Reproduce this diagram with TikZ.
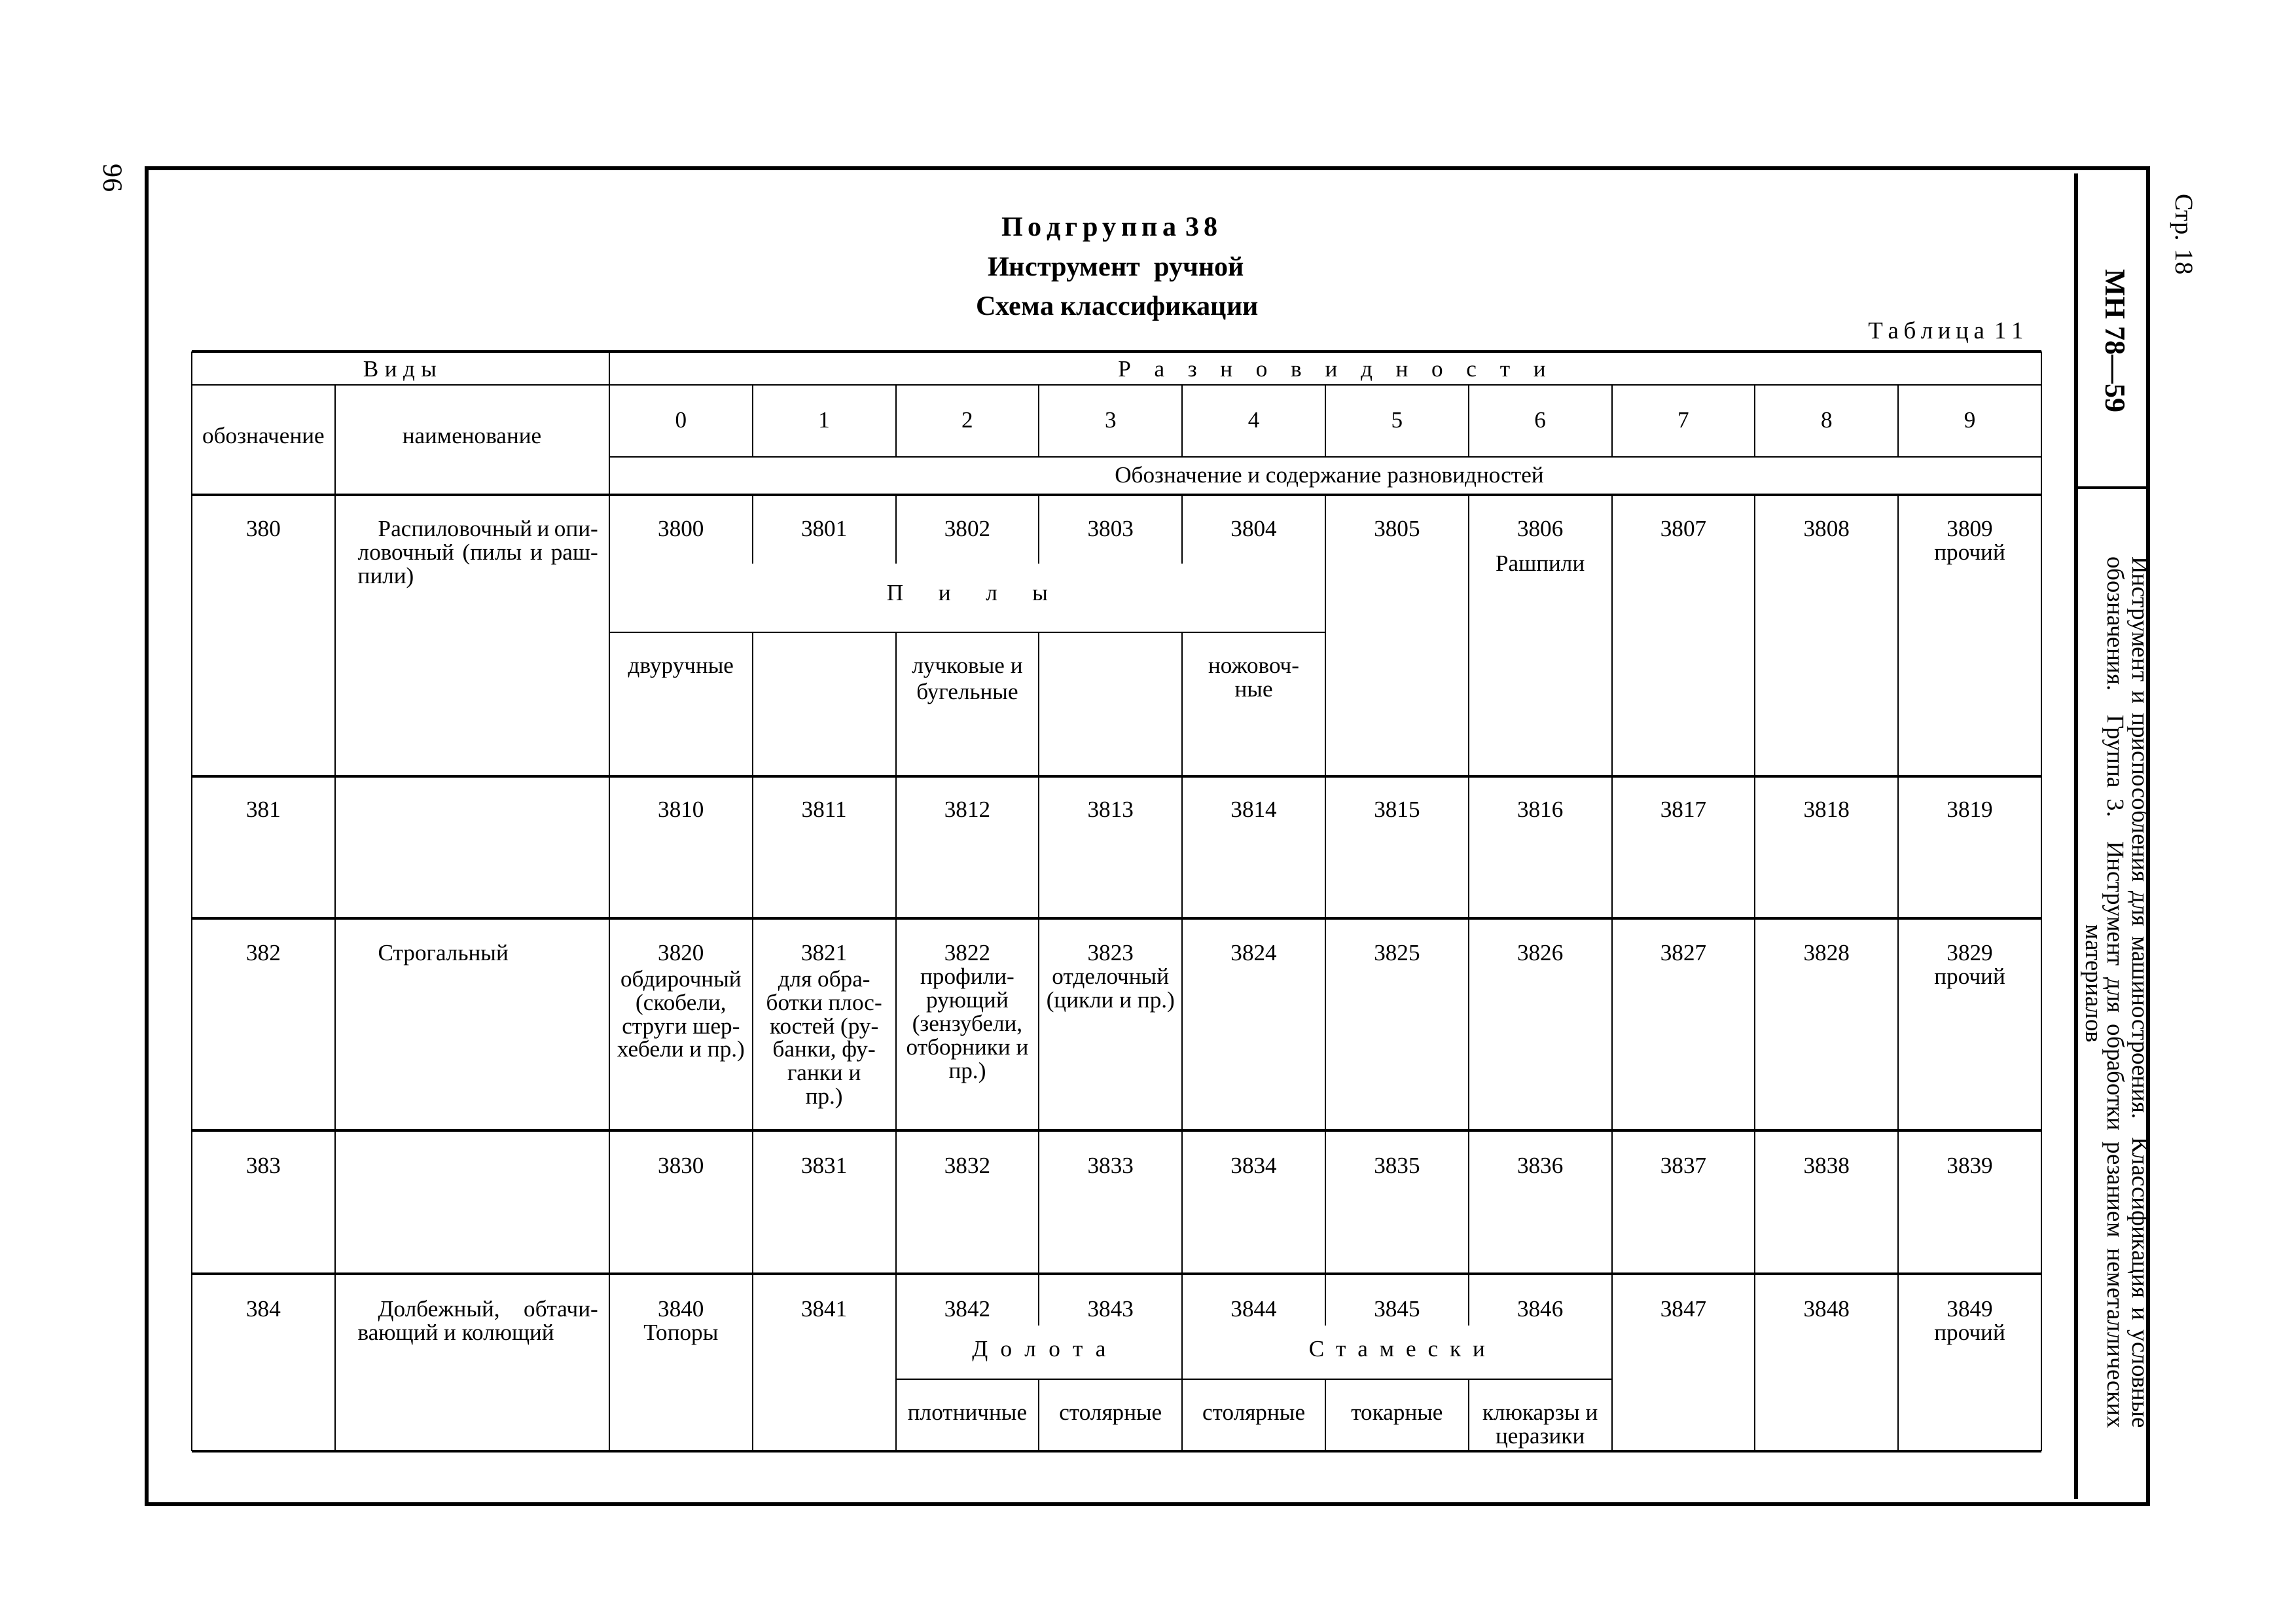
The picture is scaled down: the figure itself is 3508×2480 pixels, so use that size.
\documentclass[tikz,border=0pt]{standalone}
\usepackage{fontspec}
\setmainfont{Liberation Serif}
\newcommand\fs{\fontsize{10}{10.2}\selectfont}
\newcommand\spr[2]{\makebox[#1][s]{#2}}
\tikzset{
  heavy/.style={line width=1.3pt},
  thinline/.style={line width=0.6pt},
  frameline/.style={line width=1.5pt},
  cell/.style={font=\fs, align=center, anchor=north, inner sep=0pt},
  ncell/.style={font=\fs, align=left, anchor=north west, inner sep=0pt},
  side/.style={rotate=-90, inner sep=0pt, anchor=center},
}
\newcommand\C[4]{\node[cell] (#1) at ({#2},{#3-25}) {\strut #4};}
\begin{document}
\begin{tikzpicture}[x=0.01cm,y=-0.01cm]
\useasboundingbox (0,0) rectangle (3508,2480);
% page frame
\draw[frameline] (224,257) rectangle (3282,2298);
\draw[frameline] (3172,265) -- (3172,2290);
\draw[heavy] (3172,745) -- (3282,745);
% titles
\node[anchor=base, inner sep=0pt, font=\fontsize{12}{14}\selectfont\bfseries] (t1) at (1696,360)
  {\spr{3.30cm}{П\hfil о\hfil д\hfil г\hfil р\hfil у\hfil п\hfil п\hfil а\hfil\hfil 3\hfil 8}};
\node[anchor=base, inner sep=0pt, font=\fontsize{12}{14}\selectfont\bfseries] (t2) at (1705,421) {Инструмент\ \ ручной};
\node[anchor=base, inner sep=0pt, font=\fontsize{12}{14}\selectfont\bfseries] (t3) at (1707,481) {Схема классификации};
\node[anchor=base, inner sep=0pt, font=\fontsize{10.5}{12}\selectfont] (tab) at (2973,517)
  {\spr{2.37cm}{Т\hfil а\hfil б\hfil л\hfil и\hfil ц\hfil а\hfil\hfil 1\hfil 1}};
\node[side, font=\fontsize{12}{14}\selectfont] (pg) at (172,272) {96};
% side texts
\node[side, font=\fontsize{11}{13}\selectfont] (str) at (3333,358) {Стр. 18};
\node[side, font=\fontsize{12.5}{14}\selectfont\bfseries] (mn) at (3232,521) {МН 78—59};
\node[side, font=\fontsize{10.5}{12}\selectfont] (s1) at (3268,1516)
  {\spr{13.31cm}{Инструмент и приспособления для машиностроения. Классификация и условные}};
\node[side, font=\fontsize{10.5}{12}\selectfont] (s2) at (3230,1516)
  {\spr{13.31cm}{обозначения. Группа 3. Инструмент для обработки резанием неметаллических}};
\node[side, font=\fontsize{10.5}{12}\selectfont] (s3) at (3192,1503) {материалов};
% table horizontal lines
\draw[heavy] (293,537) -- (3119,537);
\draw[thinline] (293,588) -- (3119,588);
\draw[thinline] (931,698) -- (3119,698);
\foreach \yy in {756,1186,1403,1727,1946,2217} \draw[heavy] (293,\yy) -- (3119,\yy);
\draw[thinline] (931,966) -- (2025,966);
\draw[thinline] (1368.6,2107) -- (2462.6,2107);
% table vertical lines
\draw[thinline] (293,537) -- (293,2217);
\draw[thinline] (3119,537) -- (3119,2217);
\draw[thinline] (931,537) -- (931,2217);
\draw[thinline] (512,588) -- (512,2217);
\foreach \i in {1,...,9} {
  \draw[thinline] ({931+218.8*\i},588) -- ({931+218.8*\i},698);
  \draw[thinline] ({931+218.8*\i},1186) -- ({931+218.8*\i},1946);
}
\foreach \i in {1,...,4} {
  \draw[thinline] ({931+218.8*\i},756) -- ({931+218.8*\i},861);
  \draw[thinline] ({931+218.8*\i},966) -- ({931+218.8*\i},1186);
}
\foreach \i in {5,...,9} \draw[thinline] ({931+218.8*\i},756) -- ({931+218.8*\i},1186);
\foreach \i in {1,2,4,7,8,9} \draw[thinline] ({931+218.8*\i},1946) -- ({931+218.8*\i},2217);
\foreach \i in {3,5,6} {
  \draw[thinline] ({931+218.8*\i},1946) -- ({931+218.8*\i},2025);
  \draw[thinline] ({931+218.8*\i},2107) -- ({931+218.8*\i},2217);
}
% header texts
\C{hv}{611}{575}{\spr{1.12cm}{В\hfil и\hfil д\hfil ы}}
\C{hr}{2035}{575}{\spr{6.53cm}{Р\hfil а\hfil з\hfil н\hfil о\hfil в\hfil и\hfil д\hfil н\hfil о\hfil с\hfil т\hfil и}}
\C{hob}{402.5}{677}{обозначение}
\C{hna}{721}{677}{наименование}
\foreach \i in {0,...,9} {\C{hd\i}{1040.4+218.8*\i}{653}{\i}}
\C{hsod}{2031}{737}{Обозначение и содержание разновидностей}
% row 380
\C{k380}{402.5}{819}{380}
\node[ncell] (n380) at (546,794) {\strut\hspace*{0.31cm}\spr{3.36cm}{Распиловочный и опи-}\\\spr{3.67cm}{ловочный (пилы и раш-}\\пили)};
\foreach \i in {0,...,5,7,8} {\C{r380c\i}{1040.4+218.8*\i}{819}{380\i}}
\C{r380c6}{2353.2}{819}{3806}
\C{rasp}{2353.2}{872}{Рашпили}
\C{r380c9}{3009.6}{819}{3809\\прочий}
\C{pily}{1478}{917}{\spr{2.46cm}{П\hfil и\hfil л\hfil ы}}
\C{dvur}{1040.4}{1028}{двуручные}
\C{luch}{1478}{1028}{лучковые и\\бугельные}
\C{nozh}{1915.6}{1028}{ножовоч-\\ные}
% row 381
\C{k381}{402.5}{1248}{381}
\foreach \i in {0,...,9} {\C{r381c\i}{1040.4+218.8*\i}{1248}{381\i}}
% row 382
\C{k382}{402.5}{1467}{382}
\node[ncell] (n382) at (577,1442) {\strut Строгальный};
\C{r382c0}{1040.4}{1467}{3820\\обдирочный\\(скобели,\\струги шер-\\хебели и пр.)}
\C{r382c1}{1259.2}{1467}{3821\\для обра-\\ботки плос-\\костей (ру-\\банки, фу-\\ганки и\\пр.)}
\C{r382c2}{1478}{1467}{3822\\профили-\\рующий\\(зензубели,\\отборники и\\пр.)}
\C{r382c3}{1696.8}{1467}{3823\\отделочный\\(цикли и пр.)}
\foreach \i in {4,...,8} {\C{r382c\i}{1040.4+218.8*\i}{1467}{382\i}}
\C{r382c9}{3009.6}{1467}{3829\\прочий}
% row 383
\C{k383}{402.5}{1792}{383}
\foreach \i in {0,...,9} {\C{r383c\i}{1040.4+218.8*\i}{1792}{383\i}}
% row 384
\C{k384}{402.5}{2011}{384}
\node[ncell] (n384) at (546,1986) {\strut\hspace*{0.31cm}\spr{3.36cm}{Долбежный, обтачи-}\\вающий и колющий};
\C{r384c0}{1040.4}{2011}{3840\\Топоры}
\foreach \i in {1,...,8} {\C{r384c\i}{1040.4+218.8*\i}{2011}{384\i}}
\C{r384c9}{3009.6}{2011}{3849\\прочий}
\C{dolota}{1587.4}{2072}{\spr{2.04cm}{Д\hfil о\hfil л\hfil о\hfil т\hfil а}}
\C{stam}{2134.4}{2072}{\spr{2.69cm}{С\hfil т\hfil а\hfil м\hfil е\hfil с\hfil к\hfil и}}
\C{plot}{1478}{2169}{плотничные}
\C{stol1}{1696.8}{2169}{столярные}
\C{stol2}{1915.6}{2169}{столярные}
\C{tok}{2134.4}{2169}{токарные}
\C{kluk}{2353.2}{2169}{клюкарзы и\\церазики}
\end{tikzpicture}
\end{document}
